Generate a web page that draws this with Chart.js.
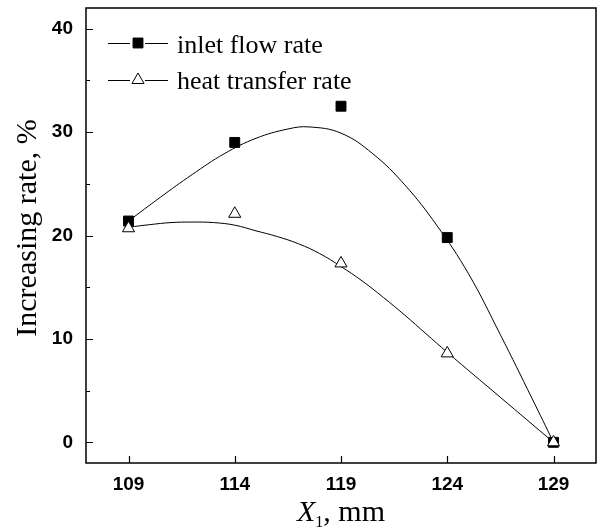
<!DOCTYPE html>
<html>
<head>
<meta charset="utf-8">
<script src="https://cdn.jsdelivr.net/npm/chart.js@4.4.0/dist/chart.umd.min.js"></script>
<style>
  html, body { margin: 0; padding: 0; background: #fff; }
  #wrap { width: 604px; height: 532px; }
</style>
</head>
<body>
<div id="wrap"><canvas id="chart" width="604" height="532"></canvas></div>
<script>
// tick labels
const xTicks = [109, 114, 119, 124, 129];
const yTicks = [0, 10, 20, 30, 40];
const yMinorTicks = [5, 15, 25, 35];

// measured points
const positions = [109, 114, 119, 124, 129];
const inletFlowRate = [21.4, 29.0, 32.5, 19.8, 0];
const heatTransferRate = [20.7, 22.1, 17.3, 8.6, 0];

// fitted curves
const inletFitX = [109, 110.5, 112, 113.5, 115, 116.5, 117.5, 119, 120.5, 122, 123.5, 125, 126.5, 128, 129];
const inletFitY = [21.4, 23.7, 25.9, 27.9, 29.4, 30.3, 30.5, 29.9, 27.9, 24.9, 21.0, 16.3, 10.4, 4.2, 0];
const heatFitX = [109, 110, 111, 112, 113, 114, 115, 116, 117, 118, 119, 120, 121, 122, 123, 124, 126.5, 129];
const heatFitY = [20.8, 21.05, 21.25, 21.3, 21.25, 21.0, 20.45, 19.9, 19.2, 18.25, 17.0, 15.6, 14.0, 12.3, 10.5, 8.7, 4.35, 0];

const pts = (xs, ys) => xs.map((x, i) => ({ x: x, y: ys[i] }));

const serif = '"Liberation Serif", "Times New Roman", serif';
const sans = '"Liberation Sans", Arial, sans-serif';

// frame, inward ticks, axis titles and the legend
const decorations = {
  id: 'decorations',
  beforeDatasetsDraw(chart) {
    const { ctx, chartArea: a, scales } = chart;
    ctx.save();
    ctx.strokeStyle = '#000';
    ctx.lineWidth = 1.5;
    ctx.strokeRect(a.left, a.top, a.right - a.left, a.bottom - a.top);
    ctx.lineWidth = 1.2;
    ctx.beginPath();
    xTicks.forEach(v => {
      const px = Math.round(scales.x.getPixelForValue(v)) + 0.5;
      ctx.moveTo(px, a.bottom); ctx.lineTo(px, a.bottom - 7);
    });
    yTicks.forEach(v => {
      const py = Math.round(scales.y.getPixelForValue(v)) + 0.5;
      ctx.moveTo(a.left, py); ctx.lineTo(a.left + 7, py);
    });
    yMinorTicks.forEach(v => {
      const py = Math.round(scales.y.getPixelForValue(v)) + 0.5;
      ctx.moveTo(a.left, py); ctx.lineTo(a.left + 4, py);
    });
    ctx.stroke();
    ctx.restore();
  },
  afterDraw(chart) {
    const { ctx, chartArea: a } = chart;
    ctx.save();
    ctx.fillStyle = '#000';

    // y title
    ctx.save();
    ctx.translate(28, 228);
    ctx.rotate(-Math.PI / 2);
    ctx.font = '30px ' + serif;
    ctx.textAlign = 'center';
    ctx.textBaseline = 'middle';
    ctx.fillText('Increasing rate, %', 0, 0);
    ctx.restore();

    // x title: italic X, subscript 1
    const partX = 'X', partSub = '1', partRest = ', mm';
    ctx.textBaseline = 'alphabetic';
    ctx.font = 'italic 30px ' + serif;
    const wX = ctx.measureText(partX).width;
    ctx.font = '16px ' + serif;
    const wSub = ctx.measureText(partSub).width;
    ctx.font = '30px ' + serif;
    const wRest = ctx.measureText(partRest).width;
    let x0 = (a.left + a.right) / 2 - (wX + wSub + wRest) / 2;
    const base = 521;
    ctx.font = 'italic 30px ' + serif;
    ctx.fillText(partX, x0, base);
    ctx.font = '16px ' + serif;
    ctx.fillText(partSub, x0 + wX, base + 6);
    ctx.font = '30px ' + serif;
    ctx.fillText(partRest, x0 + wX + wSub, base);

    // legend
    const rows = [
      { ds: chart.data.datasets[1], y: 43, base: 53 },
      { ds: chart.data.datasets[0], y: 80, base: 89 }
    ];
    rows.forEach(r => {
      ctx.strokeStyle = '#000';
      ctx.lineWidth = 1;
      ctx.beginPath();
      ctx.moveTo(108, r.y + 0.5); ctx.lineTo(130, r.y + 0.5);
      ctx.moveTo(145, r.y + 0.5); ctx.lineTo(168, r.y + 0.5);
      ctx.stroke();
      ctx.fillStyle = r.ds.backgroundColor;
      ctx.strokeStyle = r.ds.borderColor;
      ctx.lineWidth = r.ds.borderWidth;
      Chart.helpers.drawPoint(ctx, { pointStyle: r.ds.pointStyle, radius: r.ds.pointRadius, rotation: 0, borderWidth: r.ds.borderWidth }, 138, r.y);
      ctx.fillStyle = '#000';
      ctx.font = '26px ' + serif;
      ctx.textAlign = 'left';
      ctx.textBaseline = 'alphabetic';
      ctx.fillText(r.ds.label, 177, r.base);
    });
    ctx.restore();
  }
};

new Chart(document.getElementById('chart'), {
  type: 'scatter',
  data: {
    datasets: [
      {
        label: 'heat transfer rate',
        data: pts(positions, heatTransferRate),
        pointStyle: 'triangle',
        pointRadius: 7,
        backgroundColor: '#fff',
        borderColor: '#000',
        borderWidth: 1,
        showLine: false,
        order: 0
      },
      {
        label: 'inlet flow rate',
        data: pts(positions, inletFlowRate),
        pointStyle: 'rect',
        pointRadius: 7,
        backgroundColor: '#000',
        borderColor: '#000',
        borderWidth: 1,
        showLine: false,
        order: 1
      },
      {
        label: 'inlet fit',
        data: pts(inletFitX, inletFitY),
        showLine: true,
        pointRadius: 0,
        borderColor: '#000',
        borderWidth: 1,
        tension: 0.4,
        fill: false,
        order: 2
      },
      {
        label: 'heat fit',
        data: pts(heatFitX, heatFitY),
        showLine: true,
        pointRadius: 0,
        borderColor: '#000',
        borderWidth: 1,
        tension: 0.4,
        fill: false,
        order: 3
      }
    ]
  },
  options: {
    responsive: false,
    animation: false,
    devicePixelRatio: 1,
    layout: { padding: { top: 7, right: 3, left: 0, bottom: 0 } },
    plugins: { legend: { display: false }, tooltip: { enabled: false } },
    scales: {
      x: {
        type: 'linear',
        position: 'bottom',
        min: 107,
        max: 131,
        afterBuildTicks: s => { s.ticks = xTicks.map(v => ({ value: v })); },
        afterFit: s => { s.height = 69; s.paddingLeft = 0; s.paddingRight = 0; },
        grid: { display: false, drawTicks: false },
        border: { display: false },
        ticks: {
          autoSkip: false,
          maxRotation: 0,
          padding: 10,
          color: '#000',
          font: { family: sans, size: 19, weight: 'bold' }
        }
      },
      y: {
        type: 'linear',
        min: -2,
        max: 42,
        afterBuildTicks: s => { s.ticks = yTicks.map(v => ({ value: v })); },
        afterFit: s => { s.width = 86; s.paddingTop = 0; s.paddingBottom = 0; },
        grid: { display: false, drawTicks: false },
        border: { display: false },
        ticks: {
          autoSkip: false,
          padding: 13,
          color: '#000',
          font: { family: sans, size: 19, weight: 'bold' }
        }
      }
    }
  },
  plugins: [decorations]
});
</script>
</body>
</html>
